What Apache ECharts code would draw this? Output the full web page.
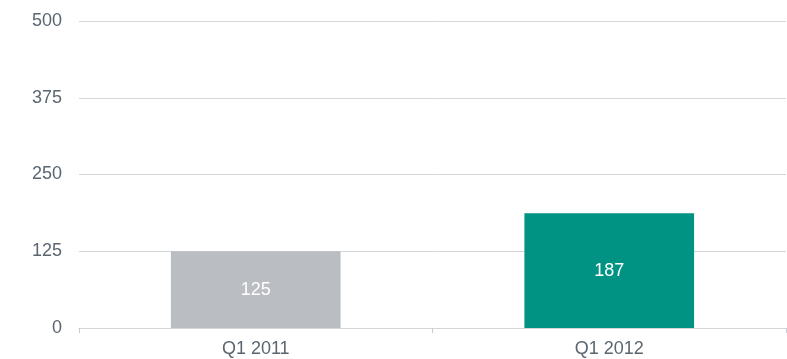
<!DOCTYPE html>
<html>
<head>
<meta charset="utf-8">
<script src="https://cdn.jsdelivr.net/npm/echarts@6/dist/echarts.min.js"></script>
<style>html,body{margin:0;padding:0;background:#fff;}#c{width:787px;height:359px;}</style>
</head>
<body>
<div id="c"></div>
<script>
const categories = ['Q1 2011', 'Q1 2012'];
const values = [125, 187];
const barColors = ['#babdc1', '#009384'];
const yTicks = [0, 125, 250, 375, 500];

const chart = echarts.init(document.getElementById('c'), null, {renderer: 'canvas'});
chart.setOption({
  animation: false,
  grid: {left: 79, right: 1, top: 21, bottom: 31, containLabel: false},
  xAxis: {
    type: 'category',
    data: categories,
    axisLine: {lineStyle: {color: '#d3d7dc', width: 1}},
    axisTick: {show: true, length: 5, lineStyle: {color: '#c8ccd1'}},
    axisLabel: {color: '#5b6670', fontSize: 18, fontFamily: 'Liberation Sans, Arial', margin: 12}
  },
  yAxis: {
    type: 'value',
    min: yTicks[0],
    max: yTicks[yTicks.length - 1],
    interval: 125,
    axisLine: {show: false},
    axisTick: {show: false},
    splitLine: {lineStyle: {color: '#d3d7dc', width: 1}},
    axisLabel: {color: '#5b6670', fontSize: 18, fontFamily: 'Liberation Sans, Arial', margin: 17}
  },
  series: [{
    type: 'bar',
    barWidth: '48%',
    data: values.map((v, i) => ({value: v, itemStyle: {color: barColors[i]}})),
    label: {show: true, position: 'inside', color: '#ffffff', fontSize: 18, fontFamily: 'Liberation Sans, Arial'}
  }]
});
</script>
</body>
</html>
